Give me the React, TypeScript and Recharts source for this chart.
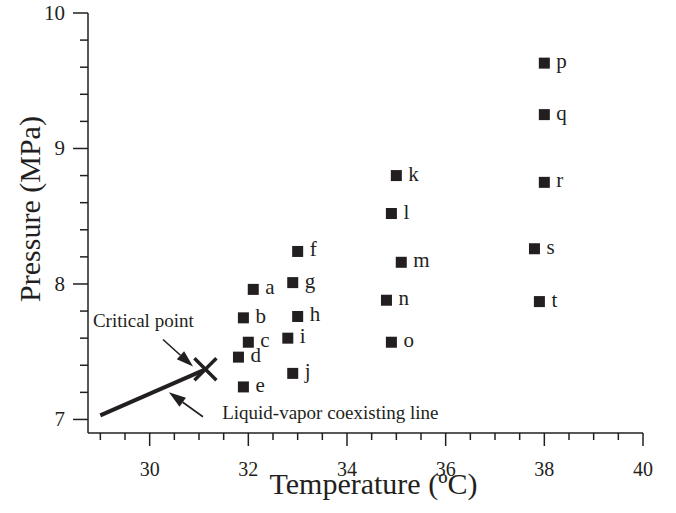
import { ScatterChart, Scatter, XAxis, YAxis, ReferenceLine, ReferenceDot } from 'recharts'

const INK = '#231f20'
const FONT = '"Liberation Serif", "Times New Roman", serif'

// experiment points (temperature in ºC, pressure in MPa)
const pointLabels = ['a', 'b', 'c', 'd', 'e', 'f', 'g', 'h', 'i', 'j', 'k', 'l', 'm', 'n', 'o', 'p', 'q', 'r', 's', 't']
const temperatures = [32.1, 31.9, 32.0, 31.8, 31.9, 33.0, 32.9, 33.0, 32.8, 32.9, 35.0, 34.9, 35.1, 34.8, 34.9, 38.0, 38.0, 38.0, 37.8, 37.9]
const pressures = [7.96, 7.75, 7.57, 7.46, 7.24, 8.24, 8.01, 7.76, 7.6, 7.34, 8.8, 8.52, 8.16, 7.88, 7.57, 9.63, 9.25, 8.75, 8.26, 7.87]

// liquid-vapor coexisting line, ending at the critical point
const coexistTemps = [29.0, 31.13]
const coexistPressures = [7.03, 7.37]
const criticalPoint = { x: 31.13, y: 7.37 }

// annotations: arrow start/end and text anchors (data units)
const criticalArrow = [{ x: 30.27, y: 7.59 }, { x: 30.88, y: 7.39 }]
const coexistArrow = [{ x: 31.08, y: 7.02 }, { x: 30.39, y: 7.2 }]
const criticalText = { x: 28.85, y: 7.68, text: 'Critical point' }
const coexistText = { x: 31.47, y: 7.0, text: 'Liquid-vapor coexisting line' }

const xTicks = [29, 29.5, 30, 30.5, 31, 31.5, 32, 32.5, 33, 33.5, 34, 34.5, 35, 35.5, 36, 36.5, 37, 37.5, 38, 38.5, 39, 39.5, 40]
const yTicks = [7, 7.2, 7.4, 7.6, 7.8, 8, 8.2, 8.4, 8.6, 8.8, 9, 9.2, 9.4, 9.6, 9.8, 10]

const points = pointLabels.map((name, i) => ({ name, x: temperatures[i], y: pressures[i] }))
const coexist = coexistTemps.map((x, i) => ({ x, y: coexistPressures[i] }))

const XTick = (props: any) => {
  const { x, y, payload } = props
  const v = payload.value
  const major = v >= 30 && Math.abs(v % 2) < 1e-6
  return (
    <g>
      <line x1={x} x2={x} y1={y} y2={y + (major ? 13 : 7)} stroke={INK} strokeWidth={1.5} />
      {major && (
        <text x={x} y={y + 43} textAnchor="middle" fontSize={20} fill={INK} fontFamily={FONT}>
          {v}
        </text>
      )}
    </g>
  )
}

const YTick = (props: any) => {
  const { x, y, payload } = props
  const v = payload.value
  const major = Math.abs(v - Math.round(v)) < 1e-6
  return (
    <g>
      <line x1={x - (major ? 15 : 8)} x2={x} y1={y} y2={y} stroke={INK} strokeWidth={1.5} />
      {major && (
        <text x={x - 23} y={y + 7} textAnchor="end" fontSize={21} fill={INK} fontFamily={FONT}>
          {v}
        </text>
      )}
    </g>
  )
}

const PointShape = (props: any) => {
  const { cx, cy, payload } = props
  return (
    <g>
      <rect x={cx - 5.5} y={cy - 5.5} width={11} height={11} fill={INK} />
      <text x={cx + 12} y={cy + 5} fontSize={21} fill={INK} fontFamily={FONT}>
        {payload.name}
      </text>
    </g>
  )
}

const CrossShape = (props: any) => {
  const { cx, cy } = props
  const s = 11
  return (
    <g stroke={INK} strokeWidth={3.5}>
      <line x1={cx - s} y1={cy - s} x2={cx + s} y2={cy + s} />
      <line x1={cx - s} y1={cy + s} x2={cx + s} y2={cy - s} />
    </g>
  )
}

const ArrowShape = (props: any) => {
  const { x1, y1, x2, y2 } = props
  const a = Math.atan2(y2 - y1, x2 - x1)
  const len = 17
  const half = 5.5
  const bx = x2 - len * Math.cos(a)
  const by = y2 - len * Math.sin(a)
  const pts = `${x2},${y2} ${bx - half * Math.sin(a)},${by + half * Math.cos(a)} ${bx + half * Math.sin(a)},${by - half * Math.cos(a)}`
  return (
    <g>
      <line x1={x1} y1={y1} x2={bx} y2={by} stroke={INK} strokeWidth={1.6} />
      <polygon points={pts} fill={INK} />
    </g>
  )
}

const textShape = (text: string) => (props: any) => (
  <text x={props.cx} y={props.cy} fontSize={19} fill={INK} fontFamily={FONT}>
    {text}
  </text>
)

export default function App() {
  return (
    <div style={{ position: 'absolute', left: 0, top: 0, width: 676, height: 513, background: '#fff' }}>
      <ScatterChart width={676} height={513} margin={{ top: 13, right: 33, bottom: 0, left: 0 }}>
        <XAxis
          type="number"
          dataKey="x"
          domain={[28.75, 40]}
          ticks={xTicks}
          interval={0}
          allowDataOverflow
          height={80}
          tickSize={0}
          tickMargin={0}
          tickLine={false}
          tick={<XTick />}
          axisLine={{ stroke: INK, strokeWidth: 1.5 }}
          label={{
            content: (p: any) => {
              const vb = p.viewBox
              return (
                <text x={vb.x + vb.width / 2 + 8} y={vb.y + 61} textAnchor="middle" fontSize={30} fill={INK} fontFamily={FONT}>
                  Temperature (ºC)
                </text>
              )
            },
          }}
        />
        <YAxis
          type="number"
          dataKey="y"
          domain={[6.9, 10]}
          ticks={yTicks}
          interval={0}
          allowDataOverflow
          width={88}
          tickSize={0}
          tickMargin={0}
          tickLine={false}
          tick={<YTick />}
          axisLine={{ stroke: INK, strokeWidth: 1.5 }}
          label={{
            content: (p: any) => {
              const vb = p.viewBox
              const cx = 40
              const cy = vb.y + vb.height / 2 - 14
              return (
                <text x={cx} y={cy} transform={`rotate(-90 ${cx} ${cy})`} textAnchor="middle" fontSize={30} fill={INK} fontFamily={FONT}>
                  Pressure (MPa)
                </text>
              )
            },
          }}
        />
        <Scatter data={coexist} line={{ stroke: INK, strokeWidth: 4 }} shape={() => <g />} isAnimationActive={false} />
        <Scatter data={[criticalPoint]} shape={<CrossShape />} isAnimationActive={false} />
        <Scatter data={points} shape={<PointShape />} isAnimationActive={false} />
        <ReferenceLine segment={criticalArrow} shape={<ArrowShape />} ifOverflow="visible" />
        <ReferenceLine segment={coexistArrow} shape={<ArrowShape />} ifOverflow="visible" />
        <ReferenceDot x={criticalText.x} y={criticalText.y} shape={textShape(criticalText.text)} ifOverflow="visible" />
        <ReferenceDot x={coexistText.x} y={coexistText.y} shape={textShape(coexistText.text)} ifOverflow="visible" />
      </ScatterChart>
    </div>
  )
}
